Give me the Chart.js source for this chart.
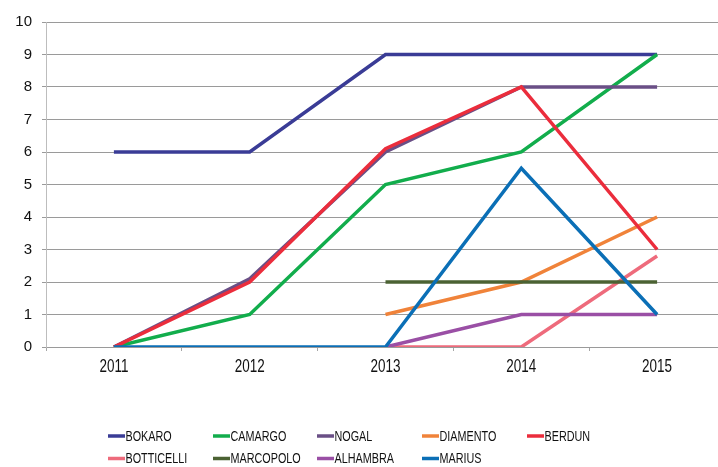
<!DOCTYPE html>
<html>
<head>
<meta charset="utf-8">
<script src="https://cdn.jsdelivr.net/npm/chart.js@4/dist/chart.umd.min.js"></script>
<style>
  html, body { margin: 0; padding: 0; background: #fff; overflow: hidden; width: 718px; height: 467px; }
  #wrap { position: absolute; left: 0; top: 0; width: 725px; height: 467px; }
</style>
</head>
<body>
<div id="wrap"><canvas id="c"></canvas></div>
<script>
const categories = ['2011', '2012', '2013', '2014', '2015'];
const yTicks = [0, 1, 2, 3, 4, 5, 6, 7, 8, 9, 10];

const seriesNames = ['BOKARO', 'CAMARGO', 'NOGAL', 'DIAMENTO', 'BERDUN', 'BOTTICELLI', 'MARCOPOLO', 'ALHAMBRA', 'MARIUS'];
const bokaro     = [6, 6, 9, 9, 9];
const camargo    = [0, 1, 5, 6, 9];
const nogal      = [0, 2.1, 6, 8, 8];
const diamento   = [null, null, 1, 2, 4];
const berdun     = [0, 2, 6.1, 8, 3];
const botticelli = [null, null, 0, 0, 2.8];
const marcopolo  = [null, null, 2, 2, 2];
const alhambra   = [null, null, 0, 1, 1];
const marius     = [0, 0, 0, 5.5, 1];

const seriesValues = [bokaro, camargo, nogal, diamento, berdun, botticelli, marcopolo, alhambra, marius];
const seriesColors = ['#3a3c96', '#12ad4c', '#6a4f86', '#f0833a', '#eb2d3c', '#ee6b7c', '#4b6233', '#9a4fa5', '#0b6fb6'];

const datasets = seriesNames.map((name, i) => ({
  label: name,
  data: seriesValues[i],
  borderColor: seriesColors[i],
  backgroundColor: seriesColors[i],
  borderWidth: 3.5,
  pointRadius: 0,
  pointHoverRadius: 0,
  tension: 0,
  fill: false,
  spanGaps: false,
  order: seriesNames.length - i
}));

const TEXT_COLOR = '#111111';
const NARROW = 0.72;

// legend laid out as a grid, like the original
const gridLegend = {
  id: 'gridLegend',
  afterDraw(chart) {
    const ctx = chart.ctx;
    const cols = [108, 213, 317, 422, 527];
    const rows = [436, 458.5];
    ctx.save();
    chart.data.datasets.forEach((ds, i) => {
      const x = cols[i % 5];
      const y = rows[Math.floor(i / 5)];
      ctx.strokeStyle = ds.borderColor;
      ctx.lineWidth = 3.5;
      ctx.lineCap = 'butt';
      ctx.beginPath();
      ctx.moveTo(x, y);
      ctx.lineTo(x + 17, y);
      ctx.stroke();
      ctx.save();
      ctx.translate(x + 17.5, y + 0.5);
      ctx.scale(NARROW, 1);
      ctx.font = "15px 'Liberation Sans', Arial, sans-serif";
      ctx.textBaseline = 'middle';
      ctx.textAlign = 'left';
      ctx.fillStyle = TEXT_COLOR;
      ctx.fillText(ds.label, 0, 0);
      ctx.restore();
    });
    ctx.restore();
  }
};

// draw x tick labels in a condensed style
function narrowLabels(scale, sx) {
  scale.drawLabels = function (chartArea) {
    const ctx = this.ctx;
    const items = this.getLabelItems(chartArea);
    for (const item of items) {
      const o = item.options;
      ctx.save();
      ctx.translate(o.translation[0], o.translation[1]);
      if (o.rotation) ctx.rotate(o.rotation);
      ctx.scale(sx, 1);
      ctx.font = item.font.string;
      ctx.fillStyle = o.color;
      ctx.textAlign = o.textAlign;
      ctx.textBaseline = o.textBaseline;
      ctx.fillText(item.label, 0, item.textOffset);
      ctx.restore();
    }
  };
}

new Chart(document.getElementById('c'), {
  type: 'line',
  data: { labels: categories, datasets },
  plugins: [gridLegend],
  options: {
    responsive: true,
    maintainAspectRatio: false,
    animation: false,
    layout: { padding: { top: 22, left: 0, right: 0, bottom: 0 } },
    plugins: {
      legend: { display: false },
      tooltip: { enabled: false }
    },
    scales: {
      x: {
        type: 'category',
        offset: true,
        grid: {
          offset: true,
          drawOnChartArea: false,
          drawTicks: true,
          tickLength: 4,
          color: '#a6a6a6'
        },
        border: { display: false },
        ticks: {
          color: TEXT_COLOR,
          padding: 6,
          font: { family: "'Liberation Sans', Arial, sans-serif", size: 17.5 },
          maxRotation: 0
        },
        afterFit(scale) { scale.height = 120; narrowLabels(scale, 0.77); }
      },
      y: {
        min: 0,
        max: 10,
        afterBuildTicks(scale) { scale.ticks = yTicks.map(v => ({ value: v })); },
        grid: {
          color: '#9a9a9a',
          lineWidth: 1,
          tickLength: 4,
          drawTicks: true
        },
        border: { display: true, color: '#bdbdbd', width: 1 },
        ticks: {
          color: TEXT_COLOR,
          padding: 10,
          font: { family: "'Liberation Sans', Arial, sans-serif", size: 15 }
        },
        afterFit(scale) { scale.width = 46; }
      }
    }
  }
});
</script>
</body>
</html>
